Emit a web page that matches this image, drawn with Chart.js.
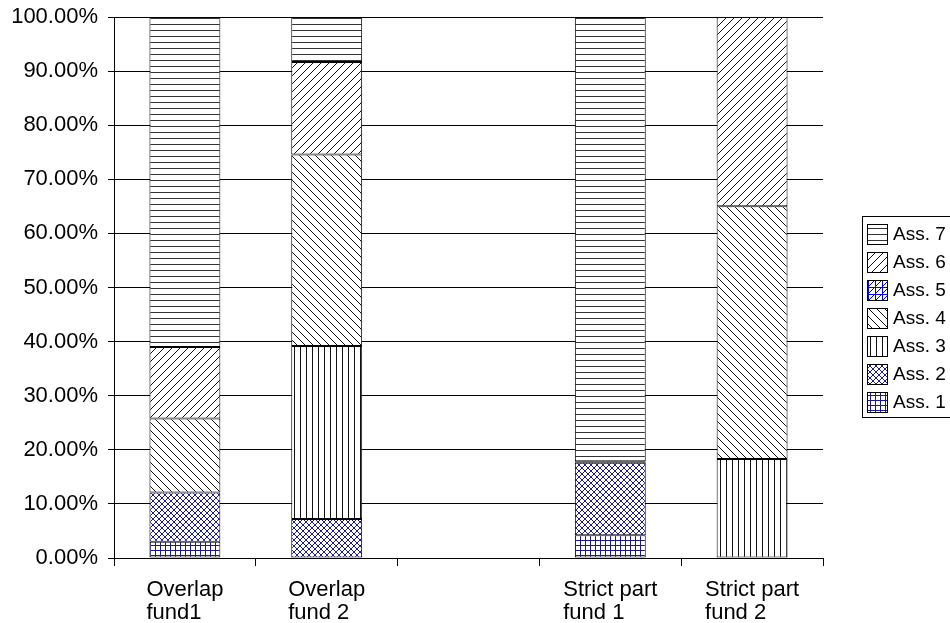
<!DOCTYPE html>
<html>
<head>
<meta charset="utf-8">
<script src="https://cdn.jsdelivr.net/npm/chart.js@4/dist/chart.umd.min.js"></script>
<style>
  html, body { margin: 0; padding: 0; background: #fff; }
  #wrap { width: 950px; height: 623px; }
</style>
</head>
<body>
<div id="wrap"><canvas id="c" width="950" height="623"></canvas></div>
<script>
// Categories (the third slot is an intentional empty gap)
const categories = [['Overlap', 'fund1'], ['Overlap', 'fund 2'], '', ['Strict part', 'fund 1'], ['Strict part', 'fund 2']];
const seriesNames = ['Ass. 1', 'Ass. 2', 'Ass. 3', 'Ass. 4', 'Ass. 5', 'Ass. 6', 'Ass. 7'];

// Share of each asset class per fund, in percent
const ass1 = [3.0, null, null, 4.2, null];
const ass2 = [9.1, 7.2, null, 13.4, null];
const ass3 = [null, 32.0, null, null, 18.3];
const ass4 = [13.7, 35.4, null, 0.3, 46.7];
const ass5 = [null, null, null, null, null];
const ass6 = [13.2, 17.1, null, null, 35.0];
const ass7 = [61.0, 8.3, null, 82.1, null];

const yTicks = [0, 10, 20, 30, 40, 50, 60, 70, 80, 90, 100];

const FONT = '"Liberation Sans", Arial, sans-serif';

// ---- hatch fills ----
function makePattern(size, draw) {
  const cv = document.createElement('canvas');
  cv.width = size; cv.height = size;
  const g = cv.getContext('2d');
  g.fillStyle = '#fff';
  g.fillRect(0, 0, size, size);
  draw(g, size);
  return document.getElementById('c').getContext('2d').createPattern(cv, 'repeat');
}
function strokeLines(g, color, width, segs) {
  g.strokeStyle = color; g.lineWidth = width;
  g.beginPath();
  segs.forEach(s => { g.moveTo(s[0], s[1]); g.lineTo(s[2], s[3]); });
  g.stroke();
}
const fills = [
  // Ass. 1: small blue grid
  makePattern(5, (g, s) => { strokeLines(g, '#1a1a8c', 1, [[0.5, 0, 0.5, s], [0, 0.5, s, 0.5]]); }),
  // Ass. 2: blue diagonal cross-hatch
  makePattern(6, (g, s) => { strokeLines(g, '#1c1c96', 1, [[0, 0, s, s], [0, s, s, 0], [-1, s - 1, 1, s + 1], [s - 1, -1, s + 1, 1]]); }),
  // Ass. 3: vertical lines
  makePattern(6, (g, s) => { strokeLines(g, '#111', 1, [[0.5, 0, 0.5, s]]); }),
  // Ass. 4: backward diagonals
  makePattern(8, (g, s) => { strokeLines(g, '#111', 1, [[0, 0, s, s], [-2, s - 2, 2, s + 2], [s - 2, -2, s + 2, 2]]); }),
  // Ass. 5: bright blue grid with diagonals
  makePattern(7, (g, s) => { strokeLines(g, '#0000ff', 1, [[0.5, 0, 0.5, s], [0, 0.5, s, 0.5], [0, s, s, 0]]); }),
  // Ass. 6: forward diagonals
  makePattern(8, (g, s) => { strokeLines(g, '#111', 1, [[0, s, s, 0], [-2, 2, 2, -2], [s - 2, s + 2, s + 2, s - 2]]); }),
  // Ass. 7: horizontal lines
  makePattern(6, (g, s) => { strokeLines(g, '#333', 1, [[0, 0.5, s, 0.5]]); })
];

const seriesData = [ass1, ass2, ass3, ass4, ass5, ass6, ass7];
const datasets = seriesNames.map((name, i) => ({
  label: name,
  data: seriesData[i],
  backgroundColor: fills[i],
  borderColor: '#000',
  borderWidth: 1,
  borderSkipped: false,
  categoryPercentage: 1.0,
  barPercentage: 0.5
}));

// Category labels: two lines, left-aligned to each other, block centred under the bar
const categoryLabels = {
  id: 'categoryLabels',
  afterDraw(chart) {
    const ctx = chart.ctx, xs = chart.scales.x;
    ctx.save();
    ctx.font = '22px ' + FONT;
    ctx.fillStyle = '#000';
    ctx.textAlign = 'left';
    ctx.textBaseline = 'alphabetic';
    categories.forEach((lab, i) => {
      if (!lab) return;
      const lines = Array.isArray(lab) ? lab : [lab];
      const w = Math.max(...lines.map(l => ctx.measureText(l).width));
      const left = xs.getPixelForTick(i) - w / 2;
      lines.forEach((l, k) => ctx.fillText(l, left, 596 + k * 23));
    });
    ctx.restore();
  }
};

// Boxed legend at the right, listing the series top-down from Ass. 7
const boxLegend = {
  id: 'boxLegend',
  afterDraw(chart) {
    const ctx = chart.ctx;
    const x0 = 862, y0 = 216, w = 120, h = 201;
    ctx.save();
    ctx.strokeStyle = '#000'; ctx.lineWidth = 1;
    ctx.strokeRect(x0 + 0.5, y0 + 0.5, w, h);
    ctx.font = '19px ' + FONT;
    ctx.textBaseline = 'middle';
    const ds = chart.data.datasets;
    for (let k = 0; k < ds.length; k++) {
      const d = ds[ds.length - 1 - k];
      const cy = Math.round(233.5 + k * 28);
      ctx.fillStyle = d.backgroundColor;
      ctx.fillRect(867, cy - 10, 20, 20);
      ctx.strokeStyle = '#000';
      ctx.strokeRect(867.5, cy - 9.5, 20, 20);
      ctx.fillStyle = '#000';
      ctx.fillText(d.label, 893, cy + 1);
    }
    ctx.restore();
  }
};

new Chart(document.getElementById('c'), {
  type: 'bar',
  data: { labels: categories, datasets },
  options: {
    responsive: false,
    animation: false,
    layout: { padding: { left: 0, right: 127, top: 17, bottom: 0 } },
    plugins: { legend: { display: false }, tooltip: { enabled: false } },
    scales: {
      x: {
        stacked: true,
        offset: true,
        border: { color: '#000', width: 1 },
        grid: { offset: true, drawOnChartArea: false, color: '#000', tickLength: 8 },
        ticks: { display: false },
        afterFit(s) { s.height = 65; s.paddingLeft = 0; s.paddingRight = 0; }
      },
      y: {
        stacked: true,
        min: 0, max: 100,
        afterBuildTicks(s) { s.ticks = yTicks.map(v => ({ value: v })); },
        border: { color: '#000', width: 1 },
        grid: { color: '#000', lineWidth: 1, tickLength: 6 },
        ticks: { color: '#000', padding: 10,
                 font: { family: FONT, size: 22 },
                 callback: v => v.toFixed(2) + '%' },
        afterFit(s) { s.width = 114; s.paddingTop = 0; s.paddingBottom = 0; }
      }
    }
  },
  plugins: [categoryLabels, boxLegend]
});
</script>
</body>
</html>
